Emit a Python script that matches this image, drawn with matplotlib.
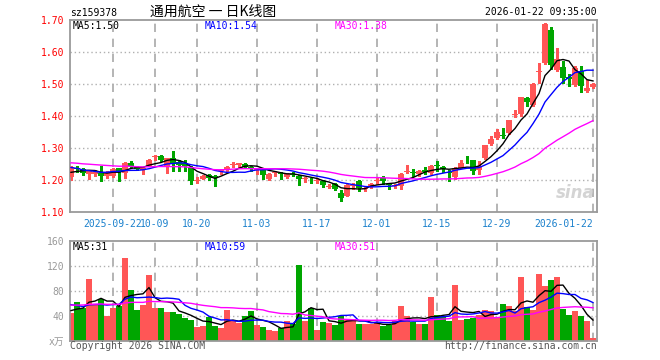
import numpy as np
import pandas as pd
import matplotlib
matplotlib.use('Agg')
import matplotlib.pyplot as plt

# ── Data ─────────────────────────────────────────────────────────────
opens = [1.210, 1.237, 1.233, 1.220, 1.218, 1.222, 1.212, 1.214, 1.236, 1.222,
         1.253, 1.240, 1.232, 1.245, 1.272, 1.276, 1.245, 1.269, 1.256, 1.252,
         1.240, 1.198, 1.204, 1.216, 1.212, 1.228, 1.234, 1.247, 1.246, 1.250,
         1.240, 1.232, 1.230, 1.203, 1.221, 1.222, 1.209, 1.219, 1.212, 1.203,
         1.201, 1.196, 1.197, 1.178, 1.188, 1.160, 1.151, 1.180, 1.198, 1.172,
         1.177, 1.197, 1.206, 1.187, 1.181, 1.180, 1.225, 1.226, 1.219, 1.232,
         1.223, 1.248, 1.241, 1.224, 1.209, 1.239, 1.260, 1.262, 1.230, 1.268,
         1.311, 1.330, 1.338, 1.348, 1.403, 1.405, 1.457, 1.434, 1.537, 1.567,
         1.669, 1.544, 1.553, 1.521, 1.496, 1.540, 1.478, 1.490]
highs = [1.245, 1.245, 1.237, 1.229, 1.230, 1.244, 1.227, 1.237, 1.238, 1.255,
         1.258, 1.244, 1.240, 1.265, 1.278, 1.277, 1.270, 1.292, 1.262, 1.262,
         1.243, 1.210, 1.215, 1.218, 1.215, 1.235, 1.245, 1.257, 1.254, 1.254,
         1.245, 1.238, 1.234, 1.222, 1.227, 1.224, 1.221, 1.226, 1.217, 1.208,
         1.207, 1.207, 1.200, 1.186, 1.190, 1.168, 1.188, 1.192, 1.200, 1.179,
         1.190, 1.206, 1.211, 1.191, 1.187, 1.221, 1.248, 1.235, 1.230, 1.242,
         1.247, 1.260, 1.244, 1.232, 1.240, 1.262, 1.275, 1.264, 1.260, 1.310,
         1.337, 1.360, 1.363, 1.388, 1.418, 1.460, 1.460, 1.502, 1.567, 1.692,
         1.678, 1.613, 1.572, 1.532, 1.556, 1.556, 1.512, 1.503]
lows = [1.200, 1.225, 1.215, 1.204, 1.213, 1.196, 1.205, 1.210, 1.196, 1.206,
        1.240, 1.230, 1.218, 1.243, 1.262, 1.258, 1.222, 1.227, 1.228, 1.228,
        1.188, 1.190, 1.202, 1.200, 1.182, 1.218, 1.226, 1.240, 1.240, 1.237,
        1.227, 1.218, 1.204, 1.199, 1.212, 1.204, 1.205, 1.212, 1.183, 1.193,
        1.190, 1.190, 1.178, 1.174, 1.168, 1.135, 1.149, 1.172, 1.167, 1.166,
        1.175, 1.188, 1.189, 1.173, 1.174, 1.172, 1.222, 1.213, 1.214, 1.218,
        1.220, 1.228, 1.225, 1.196, 1.204, 1.236, 1.254, 1.218, 1.218, 1.265,
        1.308, 1.327, 1.332, 1.345, 1.397, 1.400, 1.431, 1.430, 1.504, 1.562,
        1.546, 1.541, 1.504, 1.494, 1.494, 1.476, 1.476, 1.487]
closes = [1.240, 1.234, 1.221, 1.227, 1.226, 1.212, 1.222, 1.235, 1.226, 1.253,
          1.245, 1.235, 1.238, 1.261, 1.275, 1.264, 1.269, 1.251, 1.246, 1.243,
          1.196, 1.201, 1.214, 1.206, 1.208, 1.231, 1.242, 1.250, 1.253, 1.240,
          1.238, 1.235, 1.217, 1.220, 1.223, 1.218, 1.218, 1.217, 1.203, 1.206,
          1.199, 1.199, 1.183, 1.181, 1.171, 1.145, 1.185, 1.183, 1.175, 1.176,
          1.188, 1.200, 1.196, 1.185, 1.184, 1.219, 1.227, 1.223, 1.229, 1.226,
          1.243, 1.245, 1.233, 1.221, 1.237, 1.252, 1.258, 1.228, 1.244, 1.308,
          1.327, 1.350, 1.337, 1.386, 1.405, 1.459, 1.445, 1.501, 1.541, 1.686,
          1.559, 1.577, 1.520, 1.517, 1.551, 1.494, 1.486, 1.500]
volumes = [45, 62, 52, 99, 59, 67, 40, 52, 55, 133,
           81, 49, 57, 105, 52, 52, 46, 46, 42, 36,
           33, 22, 24, 38, 24, 21, 49, 33, 29, 40,
           47, 25, 22, 17, 15, 20, 32, 27, 121, 31,
           53, 17, 30, 28, 25, 40, 34, 34, 26, 26,
           27, 28, 24, 25, 32, 55, 40, 30, 26, 26,
           70, 41, 40, 32, 89, 33, 35, 36, 41, 49,
           48, 38, 59, 55, 48, 102, 54, 49, 107, 88,
           97, 102, 51, 41, 48, 40, 31, 5]

# closes / volumes before the window, estimated so the MAs start where the picture has them
warmup_close = [1.27, 1.28, 1.26, 1.27, 1.25, 1.26, 1.27, 1.26, 1.25, 1.26,
                1.27, 1.26, 1.25, 1.26, 1.25, 1.27, 1.26, 1.25, 1.26, 1.26,
                1.26, 1.27, 1.25, 1.25, 1.24, 1.22, 1.21, 1.22, 1.23]
warmup_vol = [60, 45, 70, 50, 55, 62, 48, 58, 66, 52,
              47, 60, 55, 64, 50, 58, 53, 61, 57, 59,
              75, 68, 72, 55, 65, 50, 44, 52, 50]

tick_pos = [7, 14, 21, 31, 41, 51, 61, 71, 87]
tick_labels = ['2025-09-22', '10-09', '10-20', '11-03', '11-17',
               '12-01', '12-15', '12-29', '2026-01-22']
price_ticks = [1.10, 1.20, 1.30, 1.40, 1.50, 1.60, 1.70]
vol_ticks = [40, 80, 120, 160]

ma_price_text = ['MA5:1.50', 'MA10:1.54', 'MA30:1.38']
ma_vol_text = ['MA5:31', 'MA10:59', 'MA30:51']

# ── Derived series ───────────────────────────────────────────────────
n = len(closes)
x = np.arange(n)
o = np.array(opens); h = np.array(highs); l = np.array(lows); c = np.array(closes)
v = np.array(volumes, dtype=float)

cs = pd.Series(warmup_close + closes)
vs = pd.Series(warmup_vol + volumes, dtype=float)
k = len(warmup_close)
ma_p = {w: cs.rolling(w, min_periods=1).mean().values[k:] for w in (5, 10, 30)}
ma_v = {w: vs.rolling(w, min_periods=1).mean().values[k:] for w in (5, 10, 30)}

RED = '#ff5656'
GREEN = '#00a600'
MA_COLORS = {5: 'black', 10: '#0000ff', 30: '#ff00ff'}
colors = [RED if cc >= oo else GREEN for oo, cc in zip(o, c)]

plt.rcParams['font.family'] = ['DejaVu Sans Mono', 'Noto Sans CJK SC']
FS = 7

# ── Figure ───────────────────────────────────────────────────────────
fig = plt.figure(figsize=(6.6, 3.6), dpi=100)
ax = fig.add_axes([70/660, 1 - 212/360, 527/660, 192/360])
axv = fig.add_axes([70/660, 1 - 340.7/360, 527/660, 100/360])

for a in (ax, axv):
    a.set_xlim(-1/6, n - 1 + 4/6)
    for s in a.spines.values():
        s.set_color('#9a9a9a')
        s.set_linewidth(1.3)
    for p in tick_pos:
        a.axvline(p, color='#a8a8a8', lw=1.2, ls=(0, (5, 4)), zorder=0)
    a.tick_params(length=0)

# price panel
ax.set_ylim(1.10, 1.70)
for yv in price_ticks[1:-1]:
    ax.axhline(yv, color='#b0b0b0', lw=1, ls=(0, (1, 2)), zorder=0)
ax.vlines(x, l, h, color=colors, lw=1, zorder=2, antialiased=False)
ax.bar(x, np.maximum(np.abs(c - o), 0.0025), bottom=np.minimum(o, c),
       width=0.84, color=colors, lw=0, zorder=3, antialiased=False)
for w in (5, 10, 30):
    ax.plot(x, ma_p[w], color=MA_COLORS[w], lw=1, zorder=4)

ax.set_yticks(price_ticks)
ax.set_yticklabels([f'{t:.2f}' for t in price_ticks], color='red', fontsize=FS)
ax.tick_params(axis='y', pad=4)
ax.set_xticks(tick_pos)
ax.set_xticklabels(tick_labels, color='#1a80cc', fontsize=FS)
ax.tick_params(axis='x', pad=5)
ax.get_xticklabels()[-1].set_horizontalalignment('right')

for txt, col, xp in zip(ma_price_text, MA_COLORS.values(), (73, 205, 335)):
    fig.text(xp/660, 1 - 26/360, txt, color=col, fontsize=FS, va='center')

ax.text(0.995, 0.05, 'sina', transform=ax.transAxes, ha='right', va='bottom',
        fontsize=12, style='italic', weight='bold', color='#d4d4d4',
        family='DejaVu Sans', zorder=1)

# volume panel
axv.set_ylim(0, 160)
for yv in vol_ticks[:-1]:
    axv.axhline(yv, color='#b0b0b0', lw=1, ls=(0, (1, 2)), zorder=0)
axv.bar(x, v, width=0.84, color=colors, lw=0, zorder=2, antialiased=False)
for w in (5, 10, 30):
    axv.plot(x, ma_v[w], color=MA_COLORS[w], lw=1, zorder=3)
axv.set_yticks([0] + vol_ticks)
axv.set_yticklabels(['x万'] + [str(t) for t in vol_ticks], color='#999999', fontsize=FS)
axv.tick_params(axis='y', pad=4)
axv.set_xticks([])

for txt, col, xp in zip(ma_vol_text, MA_COLORS.values(), (73, 205, 335)):
    fig.text(xp/660, 1 - 247/360, txt, color=col, fontsize=FS, va='center')

# header / footer
fig.text(70/660, 1 - 13/360, 'sz159378', fontsize=FS, va='center')
fig.text(213/660, 1 - 12/360, '通用航空 一 日K线图', fontsize=10, va='center', ha='center',
         family=['Noto Sans CJK SC', 'DejaVu Sans'])
fig.text(597/660, 1 - 12/360, '2026-01-22 09:35:00', fontsize=FS, va='center', ha='right')
fig.text(70/660, 1 - 346/360, 'Copyright 2026 SINA.COM', fontsize=FS, va='center', color='#555555')
fig.text(597/660, 1 - 346/360, 'http://finance.sina.com.cn', fontsize=FS, va='center',
         ha='right', color='#555555')

fig.savefig('out.png', dpi=100, facecolor='white')
